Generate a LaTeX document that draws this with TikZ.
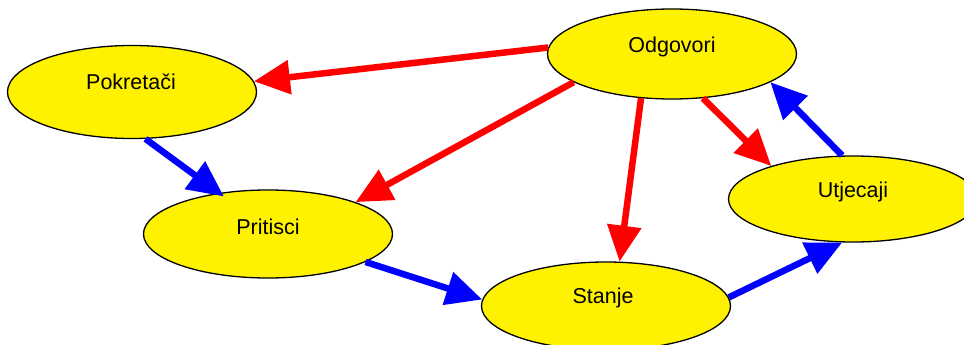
\documentclass[tikz,border=0pt]{standalone}
\usepackage{fontspec}
\setmainfont{Liberation Sans}
\usetikzlibrary{arrows.meta,shapes.geometric}
\begin{document}
\begin{tikzpicture}[x=1pt,y=-1pt,
  el/.style={ellipse, draw=black, line width=1.3pt, fill=yellow, minimum width=249pt, minimum height=90pt, inner sep=0pt},
  lbl/.style={font=\fontsize{21.5}{24}\selectfont, text=black, inner sep=0pt},
  arr/.style={line width=6.5pt, -{Triangle[length=36pt,width=33pt]}},
  redarr/.style={arr, draw=red, fill=red},
  bluearr/.style={arr, draw=blue, fill=blue}]
\useasboundingbox (0,0) rectangle (964,345);
\clip (0,0) rectangle (964,345);
\fill[white] (0,0) rectangle (964,345);
% ellipses
\node[el, minimum height=93pt] (pok) at (132,92) {};
\node[el] (odg) at (672,54) {};
\node[el, minimum height=88pt] (pri) at (268,234) {};
\node[el, minimum height=88pt] (sta) at (606,306) {};
\node[el, minimum height=86pt] (utj) at (853,199) {};
% labels
\node[lbl] (pokt) at (131,82) {Pokretači};
\node[lbl] (odgt) at (672,47) {Odgovori};
\node[lbl] (prit) at (268,227) {Pritisci};
\node[lbl] (stat) at (603,298) {Stanje};
\node[lbl] (utjt) at (853,192) {Utjecaji};
% red arrows
\draw[redarr] (odg.177) -- (pok.5);
\draw[redarr] (odg.196) -- (pri.20);
\draw[redarr] (odg.235) -- (sta.73);
\draw[redarr] (odg.305) -- (utj.158);
% blue arrows
\draw[bluearr, shorten >=-6pt] (pok.286) -- (pri.140);
\draw[bluearr] (pri.344) -- (sta.177);
\draw[bluearr] (sta.4) -- (utj.256);
\draw[bluearr] (utj.104) -- (odg.344);
\end{tikzpicture}
\end{document}
